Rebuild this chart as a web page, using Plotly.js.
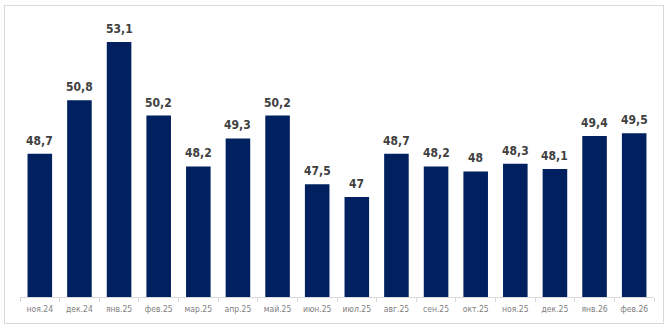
<!DOCTYPE html>
<html>
<head>
<meta charset="utf-8">
<script src="https://cdn.plot.ly/plotly-3.0.1.min.js"></script>
<style>
html,body{margin:0;padding:0;background:#fff;}
#wrap{position:relative;width:671px;height:331px;}
#chart{width:671px;height:331px;}
#border{position:absolute;left:4px;top:5px;width:658px;height:317px;border:1px solid #d9d9d9;pointer-events:none;}
</style>
</head>
<body>
<div id="wrap"><div id="chart"></div><div id="border"></div></div>
<script>
var categories = ["ноя.24","дек.24","янв.25","фев.25","мар.25","апр.25","май.25","июн.25","июл.25","авг.25","сен.25","окт.25","ноя.25","дек.25","янв.26","фев.26"];
var values = [48.7, 50.8, 53.1, 50.2, 48.2, 49.3, 50.2, 47.5, 47.0, 48.7, 48.2, 48.0, 48.3, 48.1, 49.4, 49.5];
var valueLabels = ["48,7","50,8","53,1","50,2","48,2","49,3","50,2","47,5","47","48,7","48,2","48","48,3","48,1","49,4","49,5"];

var font = "'DejaVu Sans Condensed', 'Liberation Sans Narrow', 'Liberation Sans', sans-serif";

var trace = {
  type: "bar",
  x: categories,
  y: values,
  base: 0,
  marker: {color: "#002060"},
  hoverinfo: "none"
};

var annotations = categories.map(function(c, i){
  return {
    x: c, y: values[i], xref: "x", yref: "y",
    text: valueLabels[i], showarrow: false,
    yanchor: "bottom", yshift: 4,
    font: {family: font, size: 12, color: "#404040", weight: "bold", stretch: "condensed"}
  };
});

var layout = {
  width: 671, height: 331,
  margin: {l: 20, r: 17, t: 18, b: 34, pad: 0},
  paper_bgcolor: "#ffffff",
  plot_bgcolor: "#ffffff",
  showlegend: false,
  bargap: 0.38,
  xaxis: {
    type: "category",
    showline: true, linecolor: "#d9d9d9", linewidth: 1,
    ticks: "outside", tickson: "boundaries", ticklen: 4, tickcolor: "#d9d9d9", tickwidth: 1,
    tickangle: 0, ticklabelstandoff: 4,
    showgrid: false, zeroline: false,
    tickfont: {family: font, size: 8.5, color: "#808080", stretch: "condensed"},
    fixedrange: true
  },
  yaxis: {
    range: [43.06, 54.04],
    visible: false,
    showgrid: false, zeroline: false,
    fixedrange: true
  },
  annotations: annotations
};

Plotly.newPlot("chart", [trace], layout, {displayModeBar: false, staticPlot: true});
</script>
</body>
</html>
